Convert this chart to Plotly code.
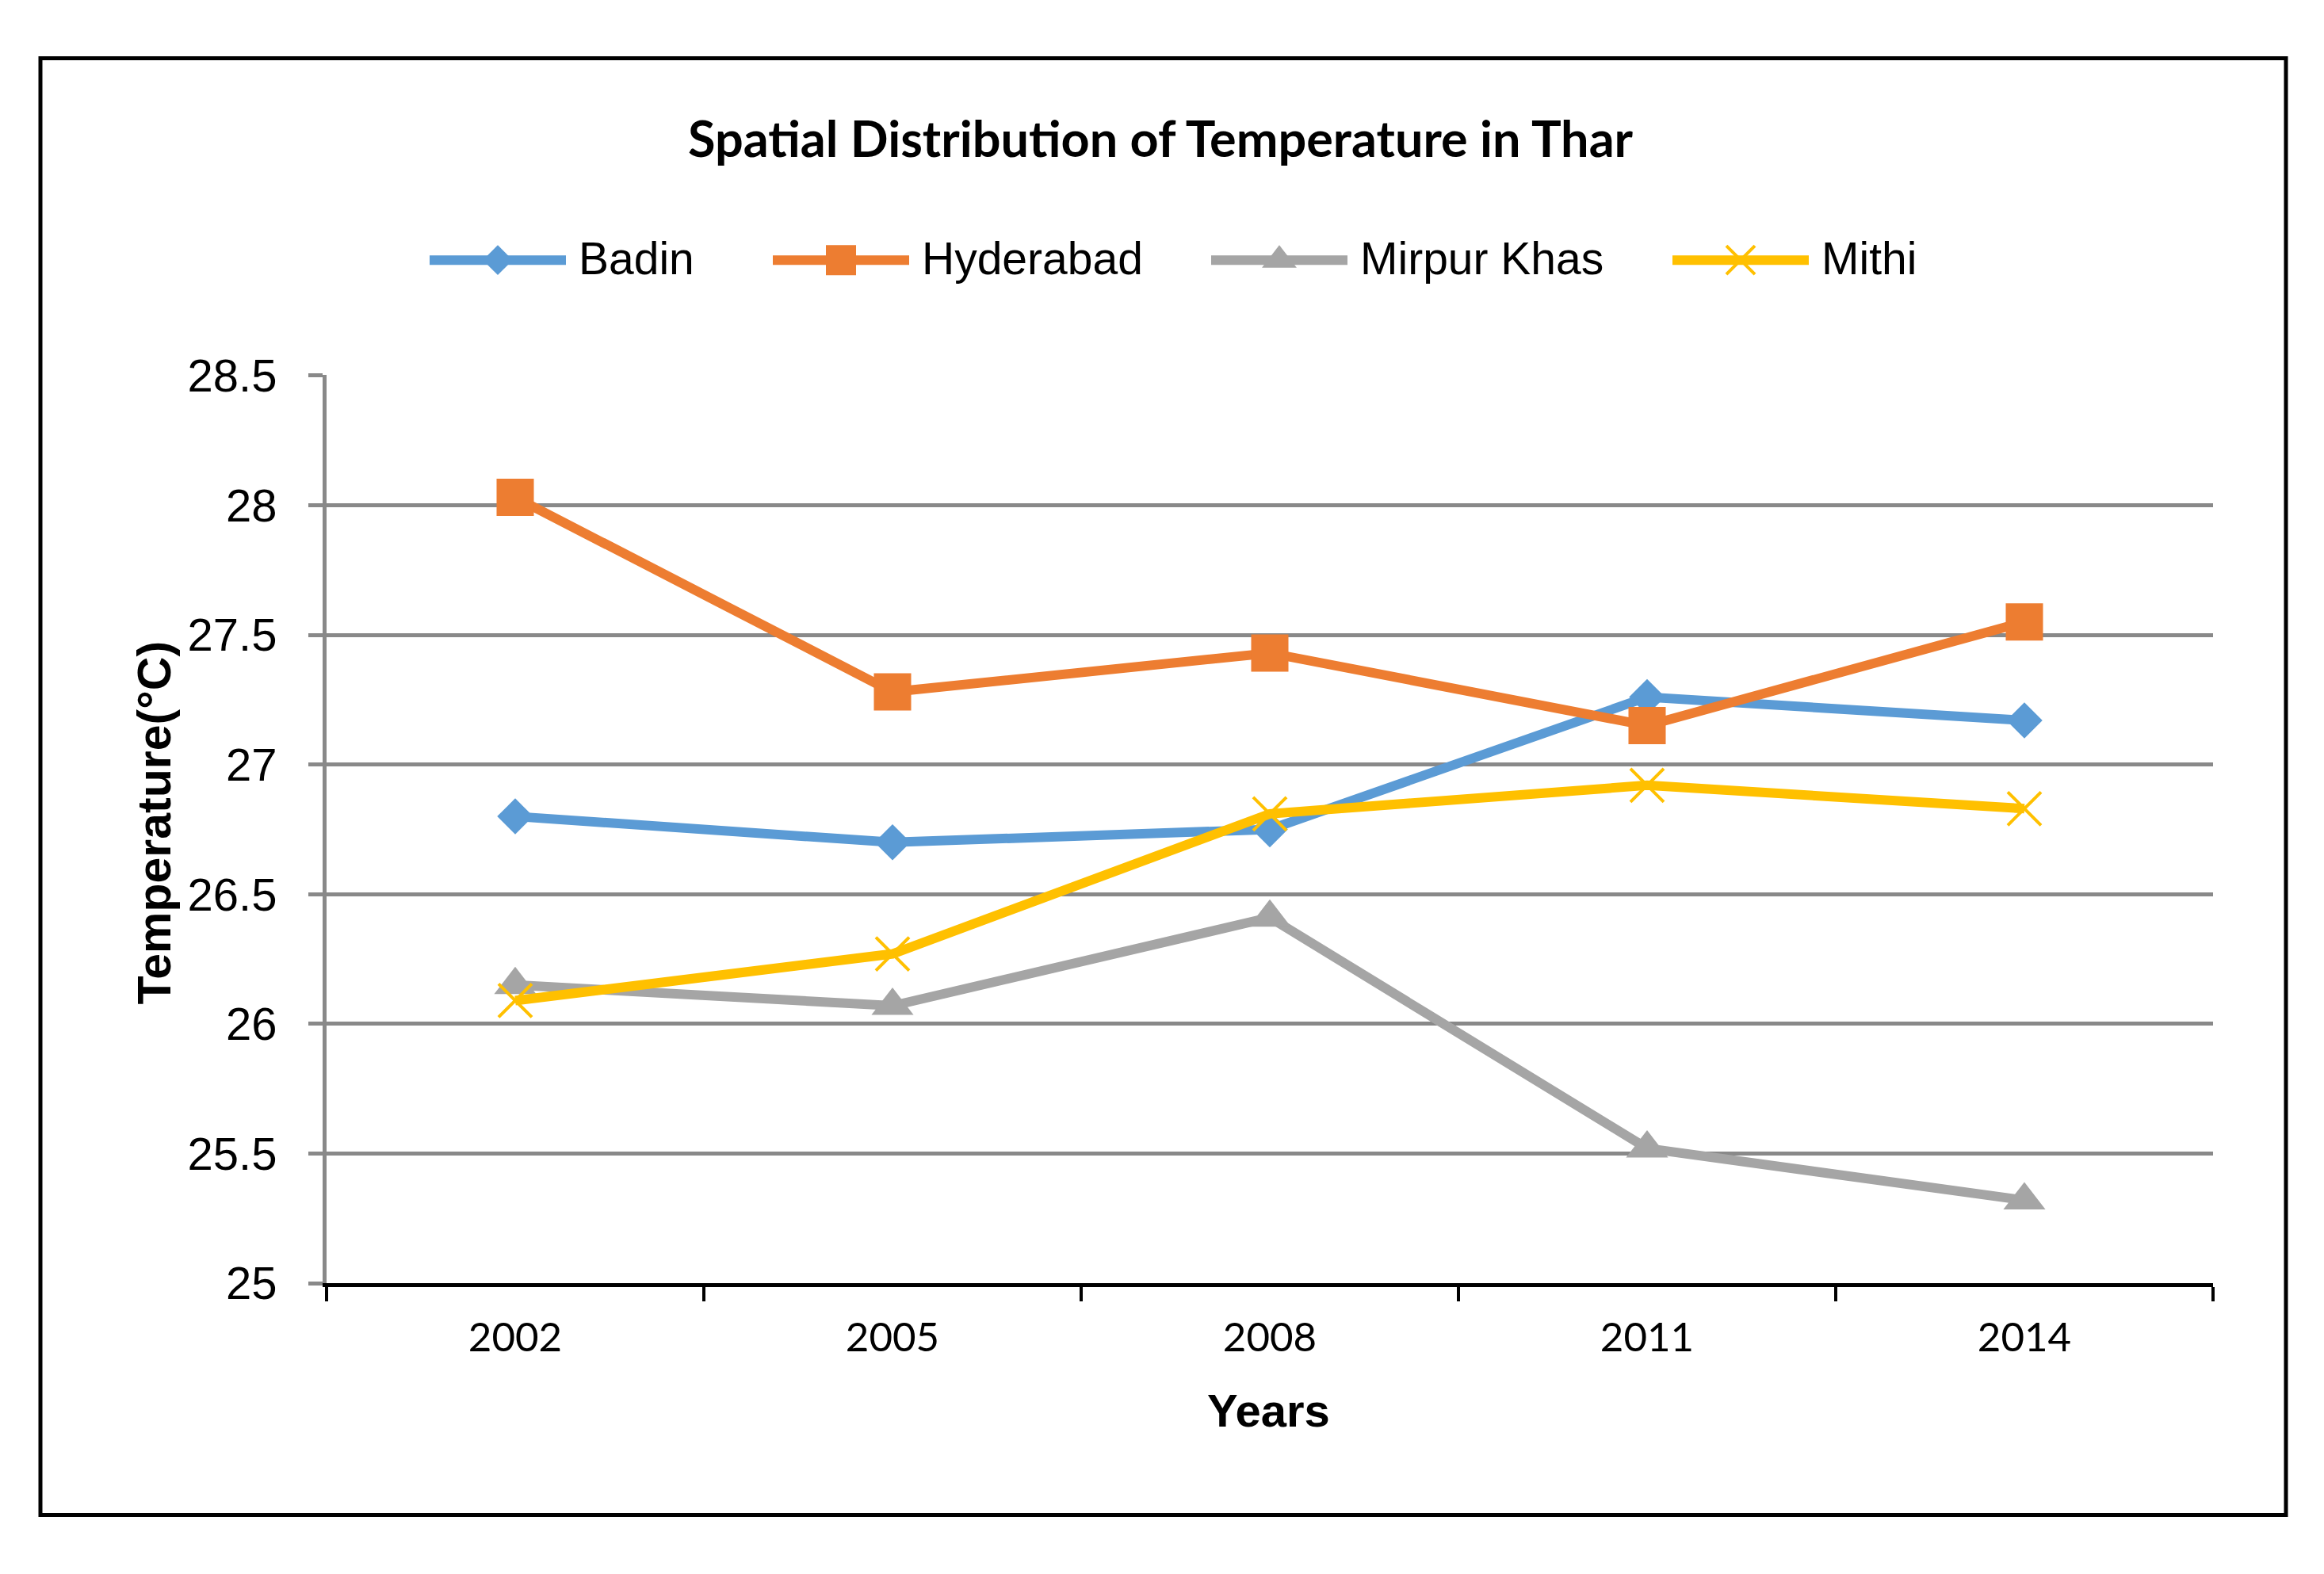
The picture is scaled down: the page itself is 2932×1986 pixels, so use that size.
import plotly.graph_objects as go

# ---------------- data ----------------
years = ["2002", "2005", "2008", "2011", "2014"]
series_names = ["Badin", "Hyderabad", "Mirpur Khas", "Mithi"]
badin = [26.80, 26.70, 26.75, 27.26, 27.17]
hyderabad = [28.03, 27.28, 27.43, 27.15, 27.55]
mirpur_khas = [26.15, 26.07, 26.41, 25.52, 25.32]
mithi = [26.09, 26.27, 26.81, 26.92, 26.83]
y_tick_vals = [25, 25.5, 26, 26.5, 27, 27.5, 28, 28.5]
y_tick_text = ["25", "25.5", "26", "26.5", "27", "27.5", "28", "28.5"]

# ---------------- styles ----------------
W, H = 2932, 1986
PL, PR, PT, PB = 412, 2792, 456, 1640
colors = ["#5B9BD5", "#ED7D31", "#A5A5A5", "#FFC000"]
symbols = ["diamond", "square", "triangle-up", "x-thin"]
sizes = [35, 47, 46, 42]
leg_sizes = [29, 38, 38, 36]
values = [badin, hyderabad, mirpur_khas, mithi]

ARIAL = "Liberation Sans, Arial, sans-serif"
CALIBRI = "Lato, Calibri, sans-serif"
GRID = "#898989"

fig = go.Figure()

for name, vals, c, s, sz in zip(series_names, values, colors, symbols, sizes):
    is_x = s == "x-thin"
    fig.add_trace(go.Scatter(
        x=years, y=vals, name=name, mode="lines+markers",
        line=dict(color=c, width=12),
        marker=dict(symbol=s, size=sz, color=c,
                    line=dict(color=c, width=4 if is_x else 0)),
        cliponaxis=False, showlegend=False, xaxis="x", yaxis="y",
    ))

# ---------------- custom legend (overlay pixel axis) ----------------
LEG_Y = 306
LEG_X = [542, 975, 1528, 2110]
LEG_LINE = 172
annotations = []
for name, c, s, lsz, lx in zip(series_names, colors, symbols, leg_sizes, LEG_X):
    is_x = s == "x-thin"
    fig.add_trace(go.Scatter(
        x=[lx, lx + LEG_LINE], y=[LEG_Y, LEG_Y], mode="lines",
        line=dict(color=c, width=12), showlegend=False, hoverinfo="skip",
        xaxis="x2", yaxis="y2",
    ))
    fig.add_trace(go.Scatter(
        x=[lx + LEG_LINE / 2], y=[LEG_Y], mode="markers",
        marker=dict(symbol=s, size=lsz, color=c,
                    line=dict(color=c, width=4 if is_x else 0)),
        showlegend=False, hoverinfo="skip", cliponaxis=False,
        xaxis="x2", yaxis="y2",
    ))
    annotations.append(dict(
        x=lx + LEG_LINE + 14, y=LEG_Y - 2, xref="x2", yref="y2",
        text=name, showarrow=False, xanchor="left", yanchor="middle",
        font=dict(family=ARIAL, size=57, color="black"),
    ))

# title and axis titles
annotations.append(dict(
    x=1464, y=146, xref="x2", yref="y2", text="Spatial Distribution of Temperature in Thar",
    showarrow=False, xanchor="center", yanchor="middle",
    font=dict(family=CALIBRI, size=63, color="black", weight="bold"),
))
annotations.append(dict(
    x=1600, y=1806, xref="x2", yref="y2", text="Years",
    showarrow=False, xanchor="center", yanchor="middle",
    font=dict(family=ARIAL, size=58, color="black", weight="bold"),
))
annotations.append(dict(
    x=195, y=1040, xref="x2", yref="y2", text="Temperature(°C)", textangle=-90,
    showarrow=False, xanchor="center", yanchor="middle",
    font=dict(family=ARIAL, size=59, color="black", weight="bold"),
))

fig.update_layout(
    width=W, height=H,
    margin=dict(l=0, r=0, t=0, b=0, pad=0),
    paper_bgcolor="white", plot_bgcolor="rgba(0,0,0,0)",
    showlegend=False,
    annotations=annotations,
    xaxis=dict(
        type="category", domain=[PL / W, PR / W], range=[-0.5, 4.5],
        anchor="y", showgrid=False, zeroline=False,
        showline=True, linecolor="black", linewidth=5,
        ticks="outside", ticklen=18, tickwidth=4, tickcolor="black",
        tickson="boundaries", ticklabelstandoff=20,
        tickfont=dict(family=CALIBRI, size=51, color="black"),
        fixedrange=True,
    ),
    yaxis=dict(
        domain=[1 - PB / H, 1 - PT / H], range=[25, 28.5015], anchor="x",
        tickvals=y_tick_vals, ticktext=y_tick_text,
        showgrid=True, gridcolor=GRID, gridwidth=5, zeroline=False,
        showline=True, linecolor=GRID, linewidth=5,
        ticks="outside", ticklen=18, tickwidth=5, tickcolor=GRID,
        ticklabelstandoff=28,
        tickfont=dict(family=ARIAL, size=58, color="black"),
        fixedrange=True,
    ),
    xaxis2=dict(domain=[0, 1], range=[0, W], visible=False, anchor="y2", fixedrange=True),
    yaxis2=dict(domain=[0, 1], range=[H, 0], visible=False, anchor="x2", fixedrange=True),
    shapes=[
        dict(type="rect", xref="paper", yref="paper",
             x0=51 / W, x1=2884 / W, y0=1 - 43 / H, y1=1 - 1942 / H,
             line=dict(color="black", width=5), fillcolor="rgba(0,0,0,0)"),
    ],
)

fig.write_html(
    "out.html",
    config={"displayModeBar": False},
    post_script="document.body.style.margin='0';document.body.style.overflow='hidden';",
)
